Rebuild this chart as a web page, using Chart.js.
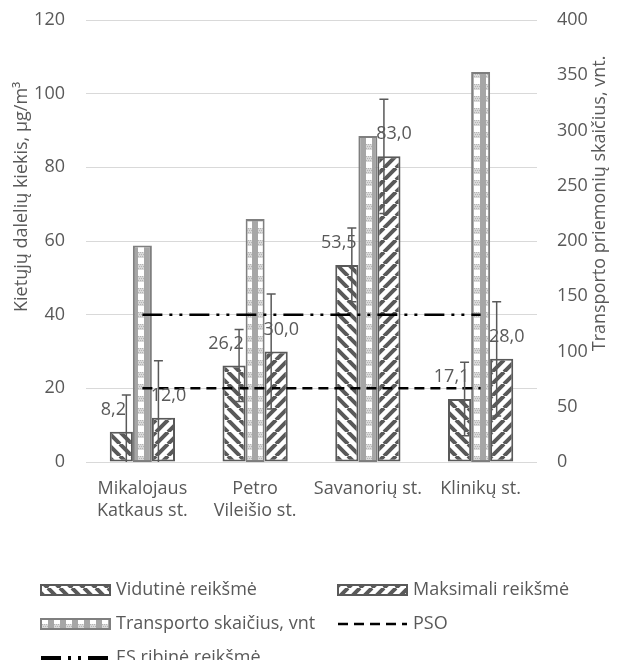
<!DOCTYPE html>
<html lang="lt">
<head>
<meta charset="utf-8">
<title>Kietųjų dalelių kiekis</title>
<script src="https://cdn.jsdelivr.net/npm/chart.js@4.4.1/dist/chart.umd.min.js"></script>
<style>
  html, body { margin: 0; padding: 0; background: #fff; }
  #wrap { width: 621px; height: 660px; }
</style>
</head>
<body>
<div id="wrap"><canvas id="chart" width="621" height="660"></canvas></div>
<script>
// Data
const categories = [['Mikalojaus', 'Katkaus st.'], ['Petro', 'Vileišio st.'], 'Savanorių st.', 'Klinikų st.'];
const vidutine = [8.2, 26.2, 53.5, 17.1];
const maksimali = [12.0, 30.0, 83.0, 28.0];
const transportas = [196, 220, 295, 353];
const vidutineErr = [10, 9.8, 10, 10];
const maksimaliErr = [15.5, 15.6, 15.5, 15.5];
const psoRiba = [20, 20, 20, 20];
const esRiba = [40, 40, 40, 40];

const colors = {
  text: '#595959',
  grid: '#d9d9d9',
  hatch: '#595959',
  transport: '#a6a6a6',
  transportLight: '#d9d9d9',
  transportBorder: '#7f7f7f',
  line: '#000000'
};
const FONT = '"Open Sans", "Noto Sans", sans-serif';

const canvas = document.getElementById('chart');
const mainCtx = canvas.getContext('2d');

// Pattern fills (Excel-like hatch)
function makeHatch(dir) {
  const s = 12;
  const tile = document.createElement('canvas');
  tile.width = tile.height = s;
  const g = tile.getContext('2d');
  g.fillStyle = '#fff';
  g.fillRect(0, 0, s, s);
  g.strokeStyle = colors.hatch;
  g.lineWidth = 4;
  g.beginPath();
  for (const k of [-s, 0, s]) {
    if (dir === 'back') { g.moveTo(k, 0); g.lineTo(k + s, s); }
    else { g.moveTo(k, s); g.lineTo(k + s, 0); }
  }
  g.stroke();
  return mainCtx.createPattern(tile, 'repeat');
}

function makeChecker() {
  const s = 6;
  const tile = document.createElement('canvas');
  tile.width = tile.height = s * 2;
  const g = tile.getContext('2d');
  g.fillStyle = colors.transport;
  g.fillRect(0, 0, s * 2, s * 2);
  g.fillStyle = colors.transportLight;
  g.fillRect(s, 0, s, s);
  g.fillStyle = '#ffffff';
  g.fillRect(s, s, s, s);
  // a few dots in the light cell
  g.fillStyle = '#b5b5b5';
  for (let i = 0; i < s; i += 2) {
    for (let j = (i / 2) % 2; j < s; j += 2) g.fillRect(s + j, i, 1, 1);
  }
  return mainCtx.createPattern(tile, 'repeat');
}

const fmt = v => v.toFixed(1).replace('.', ',');

// error bars + value labels
const extrasPlugin = {
  id: 'extras',
  afterDatasetsDraw(chart) {
    const ctx = chart.ctx;
    const area = chart.chartArea;
    const yScale = chart.scales.y;
    const sets = [
      { index: 0, err: vidutineErr, off: 5, labelOff: -8 },
      { index: 2, err: maksimaliErr, off: -5, labelOff: 5 }
    ];
    ctx.save();
    ctx.beginPath();
    ctx.rect(area.left, area.top, area.right - area.left, area.bottom - area.top);
    ctx.clip();
    ctx.strokeStyle = colors.text;
    ctx.lineWidth = 1.5;
    sets.forEach(s => {
      const ds = chart.data.datasets[s.index];
      chart.getDatasetMeta(s.index).data.forEach((bar, j) => {
        const v = ds.data[j];
        const x = bar.x + s.off;
        const hi = yScale.getPixelForValue(v + s.err[j]);
        const lo = yScale.getPixelForValue(v - s.err[j]);
        ctx.beginPath();
        ctx.moveTo(x, hi); ctx.lineTo(x, lo);
        ctx.moveTo(x - 4.5, hi); ctx.lineTo(x + 4.5, hi);
        ctx.moveTo(x - 4.5, lo); ctx.lineTo(x + 4.5, lo);
        ctx.stroke();
      });
    });
    ctx.restore();

    ctx.save();
    ctx.fillStyle = colors.text;
    ctx.font = '18px ' + FONT;
    ctx.textAlign = 'center';
    ctx.textBaseline = 'middle';
    sets.forEach(s => {
      const ds = chart.data.datasets[s.index];
      chart.getDatasetMeta(s.index).data.forEach((bar, j) => {
        ctx.fillText(fmt(ds.data[j]), bar.x + s.labelOff, bar.y - 22);
      });
    });
    ctx.restore();
  }
};

// axis titles + legend (two columns like the Excel original)
const decorPlugin = {
  id: 'decor',
  afterDraw(chart) {
    const ctx = chart.ctx;
    const area = chart.chartArea;
    ctx.save();
    ctx.fillStyle = colors.text;
    ctx.font = '18px ' + FONT;
    ctx.textAlign = 'center';
    ctx.textBaseline = 'middle';

    ctx.save();
    ctx.translate(22, area.top + (area.bottom - area.top) * 0.4);
    ctx.rotate(-Math.PI / 2);
    ctx.fillText('Kietųjų dalelių kiekis, µg/m³', 0, 0);
    ctx.restore();

    ctx.save();
    ctx.translate(600, area.top + (area.bottom - area.top) * 0.415);
    ctx.rotate(-Math.PI / 2);
    ctx.fillText('Transporto priemonių skaičius, vnt.', 0, 0);
    ctx.restore();

    const slots = [
      { ds: 0, x: 41, y: 590 },
      { ds: 2, x: 338, y: 590 },
      { ds: 1, x: 41, y: 624 },
      { ds: 3, x: 338, y: 624 },
      { ds: 4, x: 41, y: 658 }
    ];
    ctx.textAlign = 'left';
    slots.forEach(slot => {
      const ds = chart.data.datasets[slot.ds];
      const w = 69, h = 10;
      if (ds.type === 'line') {
        ctx.save();
        ctx.strokeStyle = ds.borderColor;
        ctx.lineWidth = slot.ds === 4 ? 4 : ds.borderWidth;
        ctx.setLineDash(ds.borderDash);
        ctx.beginPath();
        ctx.moveTo(slot.x, slot.y);
        ctx.lineTo(slot.x + w, slot.y);
        ctx.stroke();
        ctx.restore();
      } else {
        ctx.save();
        ctx.fillStyle = ds.backgroundColor;
        ctx.fillRect(slot.x, slot.y - h / 2, w, h);
        ctx.strokeStyle = ds.borderColor;
        ctx.lineWidth = 2;
        ctx.strokeRect(slot.x, slot.y - h / 2, w, h);
        ctx.restore();
      }
      ctx.fillText(ds.label, slot.x + w + 6, slot.y);
    });
    ctx.restore();
  }
};

const tickFont = { family: FONT, size: 18 };

function fixVertical(width) {
  return scale => {
    scale.width = width;
    scale.paddingTop = 0;
    scale.paddingBottom = 0;
  };
}

new Chart(mainCtx, {
  data: {
    labels: categories,
    datasets: [
      {
        type: 'bar',
        label: 'Vidutinė reikšmė',
        data: vidutine,
        yAxisID: 'y',
        backgroundColor: makeHatch('back'),
        borderColor: colors.hatch,
        borderWidth: 2,
        borderSkipped: false,
        order: 1
      },
      {
        type: 'bar',
        label: 'Transporto skaičius, vnt',
        data: transportas,
        yAxisID: 'y1',
        backgroundColor: makeChecker(),
        borderColor: colors.transportBorder,
        borderWidth: 2,
        borderSkipped: false,
        maxBarThickness: 19,
        order: 1
      },
      {
        type: 'bar',
        label: 'Maksimali reikšmė',
        data: maksimali,
        yAxisID: 'y',
        backgroundColor: makeHatch('fwd'),
        borderColor: colors.hatch,
        borderWidth: 2,
        borderSkipped: false,
        order: 1
      },
      {
        type: 'line',
        label: 'PSO',
        data: psoRiba,
        yAxisID: 'y',
        borderColor: colors.line,
        borderWidth: 2.5,
        borderDash: [10, 6],
        pointRadius: 0,
        fill: false,
        order: 0
      },
      {
        type: 'line',
        label: 'ES ribinė reikšmė',
        data: esRiba,
        yAxisID: 'y',
        borderColor: colors.line,
        borderWidth: 2.5,
        borderDash: [20, 7, 3, 7, 3, 7],
        pointRadius: 0,
        fill: false,
        order: 0
      }
    ]
  },
  options: {
    responsive: false,
    devicePixelRatio: 1,
    animation: false,
    categoryPercentage: 0.56,
    barPercentage: 1.1,
    layout: { padding: { top: 20 } },
    plugins: {
      legend: { display: false },
      tooltip: { enabled: false }
    },
    scales: {
      x: {
        grid: { display: false, drawTicks: false },
        border: { display: false },
        ticks: { color: colors.text, font: tickFont, padding: 16, maxRotation: 0 },
        afterFit(scale) { scale.height = 198; }
      },
      y: {
        position: 'left',
        min: 0,
        max: 120,
        ticks: { stepSize: 20, color: colors.text, font: tickFont, padding: 21 },
        grid: { color: colors.grid, lineWidth: 1, drawTicks: false },
        border: { display: false },
        afterFit: fixVertical(86)
      },
      y1: {
        position: 'right',
        min: 0,
        max: 400,
        ticks: { stepSize: 50, color: colors.text, font: tickFont, padding: 20 },
        grid: { display: false, drawTicks: false },
        border: { display: false },
        afterFit: fixVertical(84)
      }
    }
  },
  plugins: [extrasPlugin, decorPlugin]
});
</script>
</body>
</html>
